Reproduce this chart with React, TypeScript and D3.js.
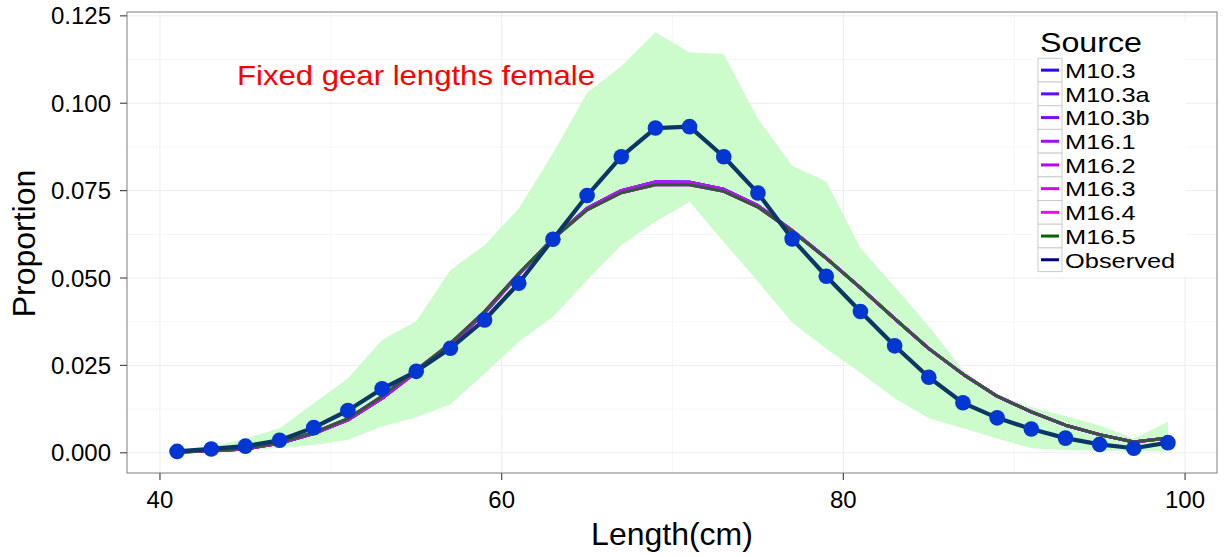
import React from "react";
import * as d3 from "d3";

// ---- data ----
const lengths = [41, 43, 45, 47, 49, 51, 53, 55, 57, 59, 61, 63, 65, 67, 69, 71, 73, 75, 77, 79, 81, 83, 85, 87, 89, 91, 93, 95, 97, 99];

const observed = [0.0004, 0.0011, 0.0019, 0.0036, 0.0072, 0.0121, 0.0183, 0.0233, 0.0299, 0.038, 0.0485, 0.0611, 0.0736, 0.0847, 0.0929, 0.0933, 0.0847, 0.0743, 0.0612, 0.0505, 0.0404, 0.0306, 0.0216, 0.0143, 0.01, 0.0068, 0.0042, 0.0024, 0.0013, 0.0029];

const bandUpper = [0.0005, 0.0017, 0.0041, 0.007, 0.0142, 0.0213, 0.0323, 0.0376, 0.0523, 0.0594, 0.0699, 0.0857, 0.103, 0.1106, 0.1203, 0.1145, 0.1141, 0.0955, 0.0821, 0.0776, 0.0585, 0.0475, 0.0361, 0.0237, 0.0165, 0.013, 0.0105, 0.0078, 0.004, 0.0089];
const bandLower = [0.0002, 0.0005, 0.0009, 0.0013, 0.0022, 0.0037, 0.0075, 0.0102, 0.0139, 0.0227, 0.0318, 0.0389, 0.0494, 0.0594, 0.0662, 0.0718, 0.0603, 0.049, 0.0373, 0.0298, 0.0229, 0.0156, 0.0099, 0.007, 0.0041, 0.0013, 0.0008, 0.0006, 0.0005, 0.0004];

const m10_3 = [0.0002, 0.0005, 0.0011, 0.0027, 0.0055, 0.0094, 0.0156, 0.0231, 0.0308, 0.04, 0.0511, 0.0613, 0.0699, 0.075, 0.0775, 0.0774, 0.0754, 0.0707, 0.0636, 0.0557, 0.0472, 0.0384, 0.0298, 0.0225, 0.0162, 0.0117, 0.0079, 0.0052, 0.0031, 0.0042];
const m10_3a = [0.0002, 0.0005, 0.0011, 0.0027, 0.0055, 0.0094, 0.0156, 0.0231, 0.0308, 0.04, 0.0511, 0.0613, 0.0699, 0.075, 0.0775, 0.0774, 0.0754, 0.0707, 0.0636, 0.0557, 0.0472, 0.0384, 0.0298, 0.0225, 0.0162, 0.0117, 0.0079, 0.0052, 0.0031, 0.0042];
const m10_3b = [0.0002, 0.0005, 0.0011, 0.0027, 0.0055, 0.0094, 0.0156, 0.0231, 0.0308, 0.04, 0.0511, 0.0613, 0.0699, 0.075, 0.0775, 0.0774, 0.0754, 0.0707, 0.0636, 0.0557, 0.0472, 0.0384, 0.0298, 0.0225, 0.0162, 0.0117, 0.0079, 0.0052, 0.0031, 0.0042];
const m16_1 = [0.0002, 0.0005, 0.0011, 0.0027, 0.0055, 0.0094, 0.0156, 0.0231, 0.0308, 0.04, 0.0511, 0.0613, 0.0699, 0.075, 0.0775, 0.0774, 0.0754, 0.0707, 0.0636, 0.0557, 0.0472, 0.0384, 0.0298, 0.0225, 0.0162, 0.0117, 0.0079, 0.0052, 0.0031, 0.0042];
const m16_2 = [0.0002, 0.0005, 0.0011, 0.0027, 0.0055, 0.0094, 0.0156, 0.0231, 0.0308, 0.04, 0.0511, 0.0613, 0.0699, 0.075, 0.0775, 0.0774, 0.0754, 0.0707, 0.0636, 0.0557, 0.0472, 0.0384, 0.0298, 0.0225, 0.0162, 0.0117, 0.0079, 0.0052, 0.0031, 0.0042];
const m16_3 = [0.0002, 0.0006, 0.0012, 0.0029, 0.0058, 0.0098, 0.0162, 0.0237, 0.0313, 0.0404, 0.0513, 0.0612, 0.0695, 0.0744, 0.0767, 0.0767, 0.0748, 0.0703, 0.0634, 0.0556, 0.0472, 0.0384, 0.0298, 0.0225, 0.0162, 0.0117, 0.0079, 0.0052, 0.0031, 0.0042];
const m16_4 = [0.0002, 0.0006, 0.0012, 0.0029, 0.0058, 0.0098, 0.0162, 0.0237, 0.0313, 0.0404, 0.0513, 0.0612, 0.0695, 0.0744, 0.0767, 0.0767, 0.0748, 0.0703, 0.0634, 0.0556, 0.0472, 0.0384, 0.0298, 0.0225, 0.0162, 0.0117, 0.0079, 0.0052, 0.0031, 0.0042];
const m16_5 = [0.0002, 0.0006, 0.0012, 0.0029, 0.0058, 0.0098, 0.0162, 0.0237, 0.0313, 0.0404, 0.0513, 0.0612, 0.0695, 0.0744, 0.0767, 0.0767, 0.0748, 0.0703, 0.0634, 0.0556, 0.0472, 0.0384, 0.0298, 0.0225, 0.0162, 0.0117, 0.0079, 0.0052, 0.0031, 0.0042];

const sourceNames = ["M10.3", "M10.3a", "M10.3b", "M16.1", "M16.2", "M16.3", "M16.4", "M16.5", "Observed"];
const sourceColors = ["#3300ff", "#5a10ff", "#7a10ff", "#9a10ff", "#bb00ff", "#dd00ff", "#ff00ff", "#006400", "#000080"];
const modelSeries = [m10_3, m10_3a, m10_3b, m16_1, m16_2, m16_3, m16_4, m16_5];
const plotModelColors = ["#3300ff", "#5a10ff", "#7a10ff", "#9a10ff", "#a81cf0", "#dd00ff", "#ff00ff", "#32583a"];

const xTicks = [40, 60, 80, 100];
const xMinor = [50, 70, 90];
const yTicks = [0, 0.025, 0.05, 0.075, 0.1, 0.125];
const yMinor = [0.0125, 0.0375, 0.0625, 0.0875, 0.1125];

const titleText = "Fixed gear lengths female";
const xLabel = "Length(cm)";
const yLabel = "Proportion";
const legendTitle = "Source";

const FONT = "'Liberation Sans', Arial, Helvetica, sans-serif";

export default function App() {
  const W = 1225;
  const H = 557;
  const P = { left: 127, right: 1217, top: 12, bottom: 473 };

  const x = d3.scaleLinear().domain([38.07, 101.87]).range([P.left, P.right]);
  const y = d3.scaleLinear().domain([-0.00578, 0.1261]).range([P.bottom, P.top]);

  const area = d3
    .area<number>()
    .x((_, i) => x(lengths[i]))
    .y0((_, i) => y(bandLower[i]))
    .y1((_, i) => y(bandUpper[i]));

  const line = (vals: number[]) =>
    d3
      .line<number>()
      .x((_, i) => x(lengths[i]))
      .y((d) => y(d))(vals) || "";

  const legendX = 1038;
  const legendTop = 58.3;
  const rowH = 23.7;

  return (
    <div style={{ position: "absolute", left: 0, top: 0 }}>
      <svg width={W} height={H} style={{ display: "block", fontFamily: FONT }}>
        <rect x={0} y={0} width={W} height={H} fill="#ffffff" />
        {/* panel background */}
        <rect x={P.left} y={P.top} width={P.right - P.left} height={P.bottom - P.top} fill="#ffffff" />
        {/* minor grid */}
        {xMinor.map((t) => (
          <line key={"xm" + t} x1={x(t)} x2={x(t)} y1={P.top} y2={P.bottom} stroke="#f6f6f6" strokeWidth={1} />
        ))}
        {yMinor.map((t) => (
          <line key={"ym" + t} x1={P.left} x2={P.right} y1={y(t)} y2={y(t)} stroke="#f6f6f6" strokeWidth={1} />
        ))}
        {/* major grid */}
        {xTicks.map((t) => (
          <line key={"xg" + t} x1={x(t)} x2={x(t)} y1={P.top} y2={P.bottom} stroke="#ededed" strokeWidth={1} />
        ))}
        {yTicks.map((t) => (
          <line key={"yg" + t} x1={P.left} x2={P.right} y1={y(t)} y2={y(t)} stroke="#ededed" strokeWidth={1} />
        ))}

        {/* band */}
        <path d={area(bandUpper) || ""} fill="#ccfbcc" stroke="none" />

        {/* model lines */}
        {modelSeries.map((s, i) => (
          <path key={"m" + i} d={line(s)} fill="none" stroke={plotModelColors[i]} strokeWidth={3} strokeLinejoin="round" />
        ))}

        {/* observed */}
        <path d={line(observed)} fill="none" stroke="#0b3764" strokeWidth={4.2} strokeLinejoin="round" />
        {observed.map((v, i) => (
          <circle key={"p" + i} cx={x(lengths[i])} cy={y(v)} r={7.8} fill="#0336d2" />
        ))}

        {/* title annotation */}
        <text x={237} y={85} fill="#ff0000" fontSize={28.5} textLength={358} lengthAdjust="spacingAndGlyphs">
          {titleText}
        </text>

        {/* legend */}
        <rect x={1033} y={22} width={153} height={255} fill="#ffffff" />
        <text x={1040} y={52} fontSize={28.5} fill="#000" textLength={102} lengthAdjust="spacingAndGlyphs">
          {legendTitle}
        </text>
        {sourceNames.map((name, i) => {
          const cy = legendTop + rowH * (i + 0.5);
          return (
            <g key={name}>
              <rect x={legendX} y={legendTop + rowH * i} width={24} height={rowH} fill="#ffffff" stroke="#cccccc" strokeWidth={1} />
              <line x1={legendX + 3} x2={legendX + 21} y1={cy} y2={cy} stroke={sourceColors[i]} strokeWidth={3} />
              <text
                transform={`translate(${legendX + 27}, ${cy + 7.8}) scale(1.24, 1)`}
                fontSize={20.5}
                fill="#000"
              >
                {name}
              </text>
            </g>
          );
        })}

        {/* panel border */}
        <rect x={P.left} y={P.top} width={P.right - P.left} height={P.bottom - P.top} fill="none" stroke="#7f7f7f" strokeWidth={1} />

        {/* axes ticks */}
        {xTicks.map((t) => (
          <g key={"xt" + t}>
            <line x1={x(t)} x2={x(t)} y1={P.bottom} y2={P.bottom + 7} stroke="#4d4d4d" strokeWidth={1.2} />
            <text x={x(t)} y={508} textAnchor="middle" fontSize={24} fill="#000">
              {t}
            </text>
          </g>
        ))}
        {yTicks.map((t) => (
          <g key={"yt" + t}>
            <line x1={P.left - 7} x2={P.left} y1={y(t)} y2={y(t)} stroke="#4d4d4d" strokeWidth={1.2} />
            <text x={111} y={y(t) + 8.5} textAnchor="end" fontSize={24} fill="#000">
              {d3.format(".3f")(t)}
            </text>
          </g>
        ))}

        {/* axis titles */}
        <text x={(P.left + P.right) / 2} y={545} textAnchor="middle" fontSize={32} fill="#000">
          {xLabel}
        </text>
        <text
          transform={`translate(35, ${(P.top + P.bottom) / 2 + 1}) rotate(-90)`}
          textAnchor="middle"
          fontSize={32}
          fill="#000"
        >
          {yLabel}
        </text>
      </svg>
    </div>
  );
}
